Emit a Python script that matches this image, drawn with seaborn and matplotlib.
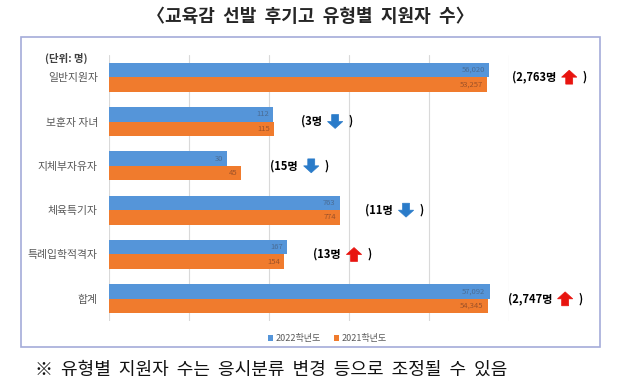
# 교육감 선발 후기고 유형별 지원자 수 - horizontal grouped bar (log scale)
import numpy as np
import pandas as pd
import seaborn as sns
import matplotlib.pyplot as plt
from matplotlib.patches import Rectangle, Polygon
from matplotlib.offsetbox import TextArea, HPacker, AnnotationBbox, DrawingArea

categories = ["일반지원자", "보훈자 자녀", "지체부자유자", "체육특기자", "특례입학적격자", "합계"]
years = ["2022학년도", "2021학년도"]
values_2022 = [56020, 112, 30, 763, 167, 57092]
values_2021 = [53257, 115, 45, 774, 154, 54345]
change_text = ["2,763명", "3명", "15명", "11명", "13명", "2,747명"]
change_up = [True, False, False, False, True, True]
change_gap = [16.5, 19.5, 21, 18, 19, 13]   # offset (pt) of the change note from the bar end

sns.set_style("white")
plt.rcParams["font.family"] = ["Noto Sans CJK KR", "DejaVu Sans"]

df = pd.DataFrame({
    "유형": categories * 2,
    "연도": [years[0]] * len(categories) + [years[1]] * len(categories),
    "지원자": values_2022 + values_2021,
})

fig = plt.figure(figsize=(6.18, 3.86), dpi=100)
ax = fig.add_axes([0.1764, 0.1684, 0.6472, 0.6891])

sns.barplot(data=df, y="유형", x="지원자", hue="연도", hue_order=years,
            palette=["#5595d9", "#f07b2d"], orient="h", width=0.66,
            saturation=1, linewidth=0, ax=ax, legend=True)

ax.set_xscale("log", nonpositive="clip")
ax.set_xlim(1, 1e5)
ax.set_xticks([1, 10, 100, 1000, 10000, 100000])
ax.xaxis.set_minor_locator(plt.NullLocator())
ax.grid(axis="x", color="#d9d9d9", linewidth=0.8)
ax.set_axisbelow(True)
ax.tick_params(axis="x", length=0, labelbottom=False)
ax.tick_params(axis="y", length=0, labelsize=7.8, labelcolor="#595959", pad=8)
ax.set_xlabel("")
ax.set_ylabel("")
for s in ax.spines.values():
    s.set_visible(False)

# value labels inside bar ends
label_colors = ["#4a6d96", "#9e5228"]
for cont, vals, col in zip(ax.containers, [values_2022, values_2021], label_colors):
    for patch, v in zip(cont.patches, vals):
        yc = patch.get_y() + patch.get_height() / 2
        ax.annotate(f"{v:,}", (v, yc), xytext=(-3, 0), textcoords="offset points",
                    ha="right", va="center", fontsize=5.5, color=col)


def block_arrow(up):
    # fat block arrow
    da = DrawingArea(11, 10, 0, 0)
    if up:
        pts = [(0, 5), (5.5, 10), (11, 5), (8, 5), (8, 0), (3, 0), (3, 5)]
        col = "#e8140f"
    else:
        pts = [(0, 5), (5.5, 0), (11, 5), (8, 5), (8, 10), (3, 10), (3, 5)]
        col = "#2a7bc9"
    da.add_artist(Polygon(pts, closed=True, facecolor=col, edgecolor=col, linewidth=0.5))
    return da


# change notes "(n명 ↑ )"
for i, (txt, up, gap) in enumerate(zip(change_text, change_up, change_gap)):
    xend = max(values_2022[i], values_2021[i])
    bold = dict(fontsize=8, fontweight="bold", color="black")
    box = HPacker(children=[TextArea("(" + txt, textprops=bold), block_arrow(up),
                            TextArea(")", textprops=bold)],
                  sep=4, align="center", pad=0)
    ab = AnnotationBbox(box, (xend, i), xybox=(gap, 0), boxcoords="offset points",
                        box_alignment=(0, 0.5), frameon=False)
    ax.add_artist(ab)

handles, labels = ax.get_legend_handles_labels()
ax.get_legend().remove()
fig.legend(handles, labels, loc="center", bbox_to_anchor=(0.53, 0.122), ncol=2,
           frameon=False, fontsize=6.5, labelcolor="#595959",
           handlelength=0.55, handleheight=0.55, handletextpad=0.3, columnspacing=1.5)

fig.text(45 / 618, 1 - 58 / 386, "(단위: 명)", fontsize=7.5, fontweight="bold",
         color="#404040", ha="left", va="center")

# outer frame
fig.patches.append(Rectangle((0.034, 0.101), 0.937, 0.803, transform=fig.transFigure,
                             fill=False, edgecolor="#a4acd9", linewidth=1.2))

fig.text(0.502, 0.956, "〈교육감  선발  후기고  유형별  지원자  수〉", fontsize=13,
         fontweight="bold", ha="center", va="center")
fig.text(0.057, 0.041, "※  유형별  지원자  수는  응시분류  변경  등으로  조정될  수  있음",
         fontsize=13, ha="left", va="center", color="#111111")

plt.savefig("out.png", dpi=100)
